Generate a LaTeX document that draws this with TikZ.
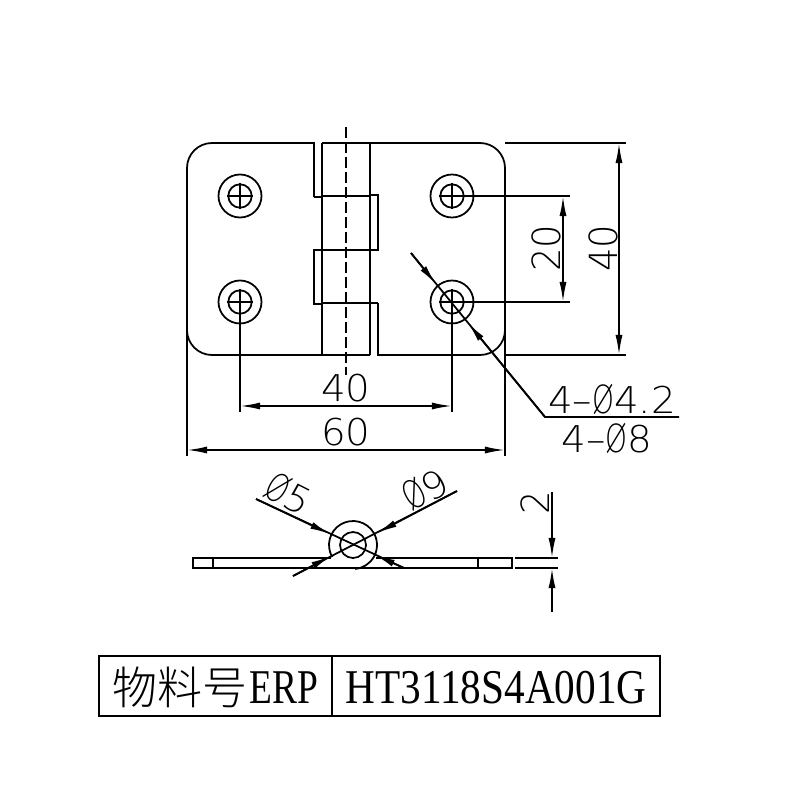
\documentclass[tikz,border=0pt]{standalone}
\usepackage{fontspec}
\usepackage{tikz}
\usetikzlibrary{arrows.meta}
\setmainfont{Liberation Serif}
\newfontfamily\cadfont{DejaVu Sans ExtraLight}
\newfontfamily\cjkfont{Noto Sans CJK SC Light}
\newcommand*{\cadphi}{\scalebox{0.72}[1.05]{Ø}}
\newcommand*{\holeMark}[1]{% #1 = centre of the hole
   \draw (#1) circle[radius=21.5];
   \draw (#1) circle[radius=11.7];
   \draw ([xshift=-0.13cm]#1) -- ([xshift=0.13cm]#1);
   \draw ([yshift=-0.13cm]#1) -- ([yshift=0.13cm]#1);
}

\begin{document}
\begin{tikzpicture}[
		x=0.01cm,
		y=0.01cm,
		yscale=-1,
		line width=0.5pt,
		>={Latex[length=2mm,width=0.7mm]},
		cadtext/.style={font=\cadfont\fontsize{10.5pt}{10.5pt}\selectfont,inner sep=0pt,xscale=1.05},
		serieltext/.style={font=\fontsize{13.8pt}{13.8pt}\selectfont,inner sep=0pt}
	]
		\useasboundingbox (0,0) rectangle (800,800);
		% plate outline
		\draw (314,197) -- (314,143) -- (212,143) arc[start angle=270,delta angle=-90,radius=25]
			-- (187,330) arc[start angle=180,delta angle=-90,radius=25] -- (370,355);
		\draw (370,143) -- (480,143) arc[start angle=270,delta angle=90,radius=25]
			-- (505,330) arc[start angle=0,delta angle=90,radius=25] -- (378,355) -- (378,303);
		\draw (322,143) -- (370,143);
		% hinge
		\draw (322,143) -- (322,355);
		\draw (370,143) -- (370,355);
		\draw (314,197) -- (322,197);
		\draw (370,195) -- (378,195) -- (378,250) -- (370,250);
		\draw (322,250) -- (314,250) -- (314,304) -- (322,304);
		\draw (370,303) -- (378,303);
		\draw[line width=0.75pt] (322,196) -- (370,196);
		\draw[line width=0.75pt] (322,250) -- (370,250);
		\draw[line width=0.75pt] (322,303) -- (370,303);
		\draw[dash pattern=on 1.1mm off 0.4mm] (346,127) -- (346,375);
		% holes
		\coordinate (holeTL) at (240,196);
		\coordinate (holeBL) at (240,302);
		\coordinate (holeTR) at (452,196);
		\coordinate (holeBR) at (452,302);
		\holeMark{holeTL}
		\holeMark{holeBL}
		\holeMark{holeTR}
		\holeMark{holeBR}
		% dimensions front view
		\draw (holeBL) -- (240,412);
		\draw (holeBR) -- (452,412);
		\draw (187,330) -- (187,456);
		\draw (505,170) -- (505,456);
		\draw[<->] (240,406) -- (452,406);
		\draw[<->] (187,450) -- (505,450);
		\node[cadtext] (dimA) at (346,388) {40};
		\node[cadtext] (dimB) at (346,432) {60};
		\draw (505,143) -- (626,143);
		\draw (505,355) -- (626,355);
		\draw (holeTR) -- (570,196);
		\draw (holeBR) -- (570,302);
		\draw[<->] (619,143) -- (619,355);
		\draw[<->] (563,196) -- (563,302);
		\node[cadtext] at (603,248) [rotate=90] (dimC) {40};
		\node[cadtext] at (546,248) [rotate=90] (dimD) {20};
		% leader
		\draw (411,253) -- (545,417) -- (679,417);
		\draw[->] (411,253) -- (436,284);
		\draw[->] (545,417) -- (468,323);
		\node[cadtext] (holeLabelA) at (612,399) {4–\cadphi4.2};
		\node[cadtext] (holeLabelB) at (607,438) {4–\cadphi8};
		% side view
		\draw (331,558) -- (193,558) -- (193,568) -- (512,568) -- (512,558) -- (376,558);
		\draw (213,558) -- (213,568);
		\draw (478,558) -- (478,568);
		\coordinate (pinC) at (353,545);
		\draw (pinC) circle[radius=13];
		\draw (pinC) ++(150:24) arc[start angle=150,end angle=445,radius=24];
		\draw (256,499) -- (404,568);
		\draw (457,491) -- (293,576);
		\draw[->] (256,499) -- (330,534);
		\draw[->] (404,568) -- (375,555);
		\draw[->] (457,491) -- (377,533);
		\draw[->] (293,576) -- (331,556);
		\node[cadtext,rotate=-28] (pinLabelA) at (289,494) {\cadphi5};
		\node[cadtext,rotate=28] (pinLabelB) at (425,489) {\cadphi9};
		\draw (515,558) -- (558,558);
		\draw (515,568) -- (558,568);
		\draw[->] (552,492) -- (552,558);
		\draw[->] (552,612) -- (552,568);
		\node[cadtext,rotate=90] (thickLabel) at (535,503) {2};
		% table
		\draw[line width=0.6pt] (99,656) rectangle (660,716);
		\draw[line width=0.6pt] (332,656) -- (332,716);
		\node[font=\cjkfont\fontsize{12.8pt}{12.8pt}\selectfont,inner sep=0pt] (erpLabel) at (180,687) {物料号};
		\node[serieltext,xscale=0.77] (erpCode) at (284,688) {ERP};
		\node[serieltext,xscale=0.85] (erpValue) at (496,688) {HT3118S4A001G};
	\end{tikzpicture}
\end{document}
